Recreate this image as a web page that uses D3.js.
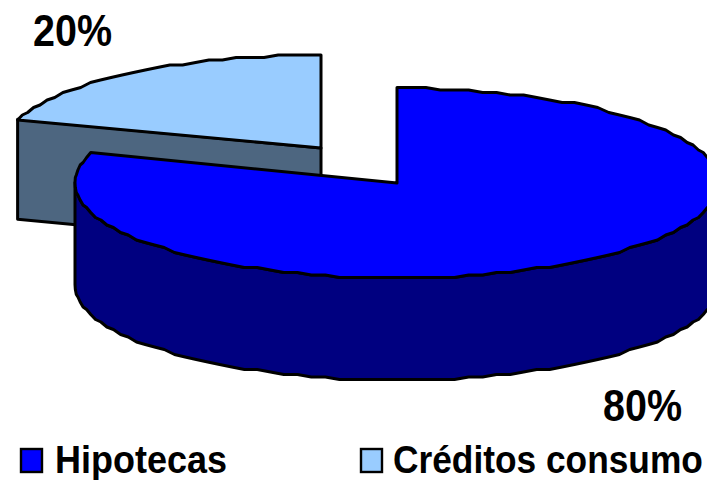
<!DOCTYPE html>
<html>
<head>
  <meta charset="utf-8">
  <title>Hipotecas y créditos consumo</title>
  <style>
    body {
      margin: 0;
      background: #fff;
    }

    svg {
      display: block;
    }

    .edge {
      stroke: #000;
      stroke-width: 3px;
      stroke-linejoin: round;
    }

    text {
      font-family: "Liberation Sans", Arial, sans-serif;
      font-weight: bold;
      fill: #000;
    }

    .share {
      font-size: 45px;
    }

    .legend text {
      font-size: 39px;
    }
  </style>
</head>
<body>
  <svg id="chart" width="707" height="480"></svg>

  <script src="https://d3js.org/d3.v7.min.js"></script>
  <script>
    // Values
    const categories = ["Hipotecas", "Créditos consumo"];
    const shares = [80, 20];
    const shareLabels = ["80%", "20%"];

    const topColors = ["#0000ff", "#99ccff"];
    const sideColors = ["#000080", "#4d6680"];

    const svg = d3.select("#chart");
    const pie = d3.pie().value(d => d).sort(null);
    const slices = pie(shares);

    // Each slice is its own tilted ellipse, the small one is pulled out
    const layout = [
      { cx: 397, cy: 183, rx: 322, ry: 95, depth: 102 },
      { cx: 321, cy: 148, rx: 319, ry: 93, depth: 100 }
    ];

    function projector(l) {
      const x = d3.scaleLinear().domain([-1, 1]).range([l.cx - l.rx, l.cx + l.rx]);
      const y = d3.scaleLinear().domain([-1, 1]).range([l.cy + l.ry, l.cy - l.ry]);
      return a => [x(Math.sin(a)), y(Math.cos(a))];
    }

    // Walk along the rim, the source picture has a slightly stepped outline
    function rim(project, a0, a1, dy) {
      const n = Math.ceil(Math.abs(a1 - a0) / 0.045);
      return d3.range(n + 1).map(i => {
        const p = project(a0 + (a1 - a0) * i / n);
        return [p[0], Math.round(p[1] / 2.5) * 2.5 + dy];
      });
    }

    // Text in the original is condensed, squeeze it to the measured width
    function squeeze(el, x, y, width) {
      const sx = width / el.getComputedTextLength();
      d3.select(el).attr("transform", `translate(${x},${y}) scale(${sx},1)`);
    }

    const line = d3.line();

    // Small slice first, it sits behind the big one
    const small = layout[1];
    const smallProject = projector(small);
    const cut = smallProject(slices[1].startAngle);
    const smallCenter = [small.cx, small.cy];

    svg.append("path")
      .attr("class", "edge")
      .attr("fill", sideColors[1])
      .attr("d", line([cut, smallCenter,
        [small.cx, small.cy + small.depth], [cut[0], cut[1] + small.depth]]) + "Z");

    svg.append("path")
      .attr("class", "edge")
      .attr("fill", topColors[1])
      .attr("d", line([smallCenter]
        .concat(rim(smallProject, slices[1].startAngle, slices[1].endAngle, 0))) + "Z");

    // Big slice: outer wall along the front half, then the top face
    const big = layout[0];
    const bigProject = projector(big);
    const front = rim(bigProject, Math.PI / 2, Math.PI * 1.5, 0);
    const frontLow = rim(bigProject, Math.PI / 2, Math.PI * 1.5, big.depth);

    svg.append("path")
      .attr("class", "edge")
      .attr("fill", sideColors[0])
      .attr("d", line(front.concat(frontLow.reverse())) + "Z");

    svg.append("path")
      .attr("class", "edge")
      .attr("fill", topColors[0])
      .attr("d", line([[big.cx, big.cy]]
        .concat(rim(bigProject, slices[0].startAngle, slices[0].endAngle, 0))) + "Z");

    // Share labels
    const labelSpots = [{ x: 603, y: 421 }, { x: 33, y: 46 }];
    svg.selectAll(".share")
      .data(shareLabels)
      .enter()
      .append("text")
      .attr("class", "share")
      .text(d => d)
      .each(function(d, i) {
        squeeze(this, labelSpots[i].x, labelSpots[i].y, 79);
      });

    // Legend
    const legendSpots = [
      { box: 21, text: 55, width: 172 },
      { box: 361, text: 393, width: 310 }
    ];
    const legend = svg.selectAll(".legend")
      .data(categories)
      .enter()
      .append("g")
      .attr("class", "legend");

    legend.append("rect")
      .attr("x", (d, i) => legendSpots[i].box)
      .attr("y", 449)
      .attr("width", 21)
      .attr("height", 23)
      .attr("fill", (d, i) => topColors[i])
      .attr("stroke", "#000")
      .attr("stroke-width", 2.4);

    legend.append("text")
      .text(d => d)
      .each(function(d, i) {
        squeeze(this, legendSpots[i].text, 473, legendSpots[i].width);
      });
  </script>
</body>
</html>
